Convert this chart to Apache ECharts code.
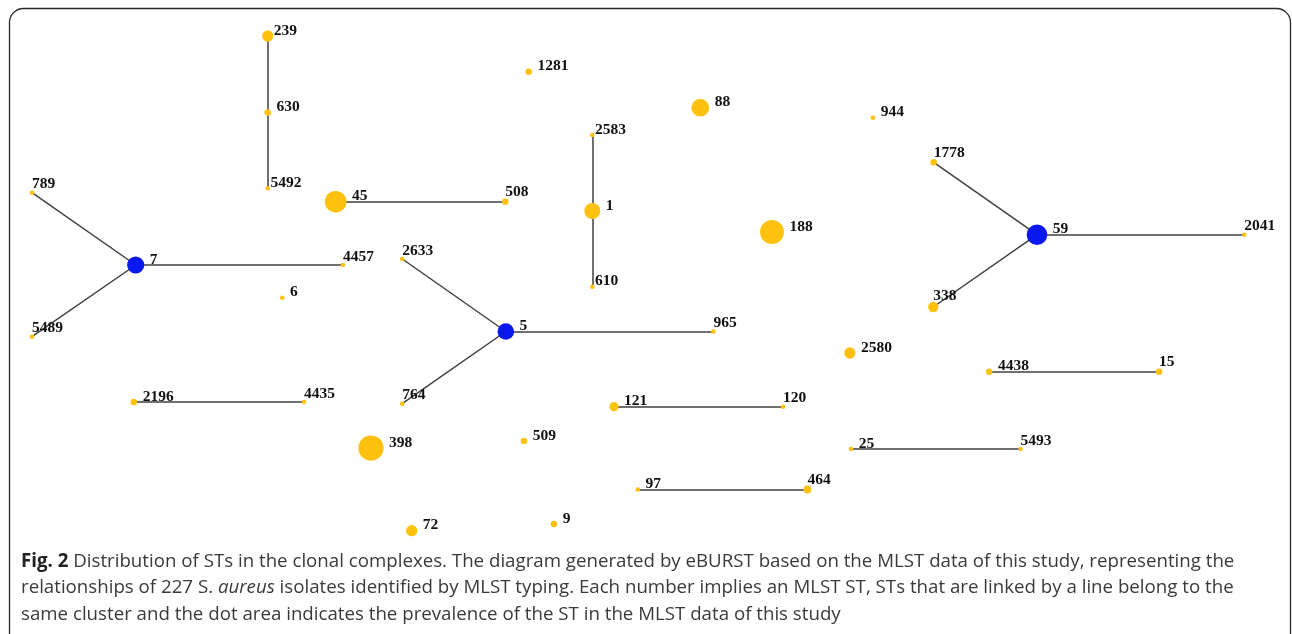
<!DOCTYPE html>
<html>
<head>
<meta charset="utf-8">
<script src="https://cdn.jsdelivr.net/npm/echarts@6/dist/echarts.min.js"></script>
<style>
  html, body { margin: 0; padding: 0; background: #ffffff; }
  #chart { width: 1292px; height: 634px; }
</style>
</head>
<body>
<div id="chart"></div>
<script>
// ---- Data ----
const stNames = ['239','630','5492','789','7','5489','4457','6','45','508','1281','2583','1','610','88','188','2633','5','965','764','944','1778','59','2041','338','2580','4438','15','2196','4435','121','120','398','509','25','5493','97','464','72','9'];
// eBURST layout coordinates of each ST
const layoutX = [267.7,267.7,267.7,32,135.7,32,343,282.3,335.7,505.3,528.7,592.3,592.3,592.3,700.3,772,402.3,505.8,713.4,402.2,873,933.7,1037,1244.3,933.3,849.8,989.2,1159.1,133.9,303.9,614,783.1,371,524,851,1020.6,637.8,807.4,411.7,553.9];
const layoutY = [36,112.5,188.3,192.7,265,336.7,265,297.7,201.7,201.7,71.7,135,211,286.7,107.7,232,259,331.5,331.5,403.7,117.7,162.3,234.7,234.7,307,353,371.7,371.7,402,402,406.7,406.7,448,441,449,449,489.5,489.5,530.7,524];
// estimated number of isolates per ST (dot area ~ prevalence)
const isolates = [6,2,1,1,14,1,1,1,22,2,2,1,12,1,15,27,1,13,1,1,1,2,20,1,5,6,2,2,2,1,4,1,30,2,1,1,1,3,6,2];
// group founders (blue)
const founders = ['7','5','59'];
// label anchoring type
const labelAt = ['chain','side','chain','top','side','top','top','side','side','top','side','chain','side','chain','side','side','top','side','top','top','side','top','side','top','top','side','side','top','side','top','side','top','side','side','side','top','side','top','side','side'];
// links between STs (single-locus variants)
const linkPairs = [['239','630'],['630','5492'],['7','789'],['7','4457'],['7','5489'],['45','508'],['2583','1'],['1','610'],['5','2633'],['5','965'],['5','764'],['59','1778'],['59','2041'],['59','338'],['4438','15'],['2196','4435'],['121','120'],['25','5493'],['97','464']];

const captionLines = [
  '{b|Fig. 2} Distribution of STs in the clonal complexes. The diagram generated by eBURST based on the MLST data of this study, representing the',
  'relationships of 227 S. {i|aureus} isolates identified by MLST typing. Each number implies an MLST ST, STs that are linked by a line belong to the',
  'same cluster and the dot area indicates the prevalence of the ST in the MLST data of this study'
];

// ---- Build chart ----
const YELLOW = '#FEC10E';
const BLUE = '#0818EE';
const DOT_K = 4.6;

const nodes = stNames.map(function (name, i) {
  const size = DOT_K * Math.sqrt(isolates[i]);
  const r = size / 2;
  const t = labelAt[i];
  let off;
  if (t === 'side') off = [r + 5.5, -5.5];
  else if (t === 'chain') off = [r + 0.5, -5.5];
  else off = [0, -(r + 6)];
  return {
    name: name,
    value: [layoutX[i], layoutY[i]],
    symbolSize: size,
    itemStyle: { color: founders.indexOf(name) >= 0 ? BLUE : YELLOW },
    label: { offset: off }
  };
});
const links = linkPairs.map(function (p) { return { source: p[0], target: p[1] }; });

const FONT = 'Open Sans';
const FS = 18.7;
const LH = 26.5;
const chart = echarts.init(document.getElementById('chart'), null, { renderer: 'canvas' });
chart.setOption({
  animation: false,
  backgroundColor: '#ffffff',
  grid: { left: 0, right: 0, top: 0, bottom: 0 },
  xAxis: { type: 'value', min: 0, max: 1292, show: false },
  yAxis: { type: 'value', min: 0, max: 634, inverse: true, show: false },
  series: [{
    type: 'graph',
    coordinateSystem: 'cartesian2d',
    symbol: 'circle',
    data: nodes,
    links: links,
    lineStyle: { color: '#404040', width: 1.5, opacity: 1, curveness: 0 },
    itemStyle: { borderWidth: 0 },
    label: {
      show: true,
      position: 'inside',
      align: 'left',
      verticalAlign: 'middle',
      formatter: '{b}',
      fontFamily: 'Liberation Serif',
      fontWeight: 'bold',
      fontSize: 15.5,
      color: '#111111'
    },
    emphasis: { disabled: true }
  }],
  graphic: [
    {
      type: 'rect',
      shape: { x: 9.5, y: 8.5, width: 1281, height: 700, r: 14 },
      style: { fill: 'none', stroke: '#2a2a2a', lineWidth: 1.3 },
      silent: true
    },
    {
      type: 'text',
      left: 21,
      top: 548,
      silent: true,
      style: {
        text: captionLines.join('\n'),
        fontFamily: FONT,
        fontSize: FS,
        lineHeight: LH,
        fill: '#3a3a3a',
        rich: {
          b: { fontFamily: FONT, fontSize: FS, lineHeight: LH, fontWeight: 'bold', fill: '#222222' },
          i: { fontFamily: FONT, fontSize: FS, lineHeight: LH, fontStyle: 'italic', fill: '#3a3a3a' }
        }
      }
    }
  ]
});
</script>
</body>
</html>
